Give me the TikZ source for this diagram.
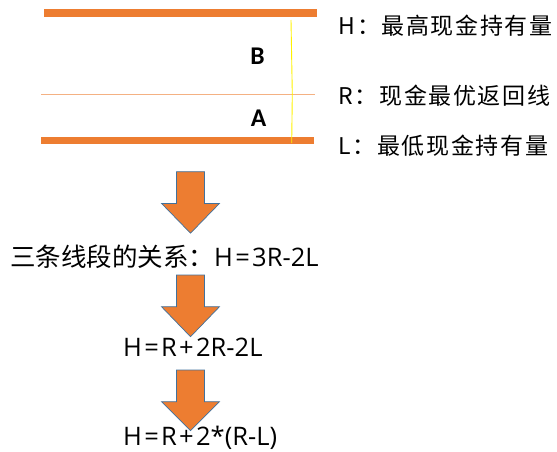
\documentclass[tikz,border=0pt]{standalone}
\usepackage{fontspec}
\newfontfamily\cjk{Noto Sans CJK SC}
\newfontfamily\cjkwide{Noto Sans CJK SC}[LetterSpace=7]
\newfontfamily\latin{Open Sans}
\newfontfamily\letterfont{Carlito}
\definecolor{barorange}{HTML}{ED7D31}
\definecolor{midline}{HTML}{F4B183}
\definecolor{arrowedge}{HTML}{41719C}
\definecolor{guide}{HTML}{FFF200}
% wider relation and plus signs
\newcommand\eqsym{\kern2.3pt=\kern2.3pt}
\newcommand\plussym{\kern2.3pt+\kern2.3pt}

\begin{document}
\begin{tikzpicture}[x=1pt,y=-1pt,
  bar/.style={fill=barorange, draw=none},
  legend/.style={anchor=base west, inner sep=0pt, font=\cjkwide\fontsize{23}{24}\selectfont},
  zone/.style={inner sep=0pt, font=\letterfont\bfseries\fontsize{25.5}{26}\selectfont},
  formula/.style={anchor=base west, inner sep=0pt, font=\fontsize{25.5}{26}\selectfont},
  downblock/.pic={
    \draw[fill=barorange, draw=arrowedge, line width=0.7pt]
      (-14,0) -- (14,0) -- (14,31.7) -- (29,31.7) -- (0,#1)
      -- (-29,31.7) -- (-14,31.7) -- cycle;
  }
]
\useasboundingbox (0,0) rectangle (557,452);

% cash limits: upper bar, return line, lower bar
\fill[bar] (43.8,9) rectangle (316.7,16.7);
\draw[midline, line width=1.2pt] (41,94.3) -- (315,94.3);
\fill[bar] (41,136.7) rectangle (314,144);
\draw[guide, line width=0.9pt] (291,20) -- (292.3,94) -- (291.7,143);

% zone letters
\node[zone] (zoneB) at (257.5,56.7) {B};
\node[zone] (zoneA) at (258.5,118.5) {A};

% legend
\node[legend] (legH) at (338.5,35) {H：最高现金持有量};
\node[legend] (legR) at (338.5,104) {R：现金最优返回线};
\node[legend] (legL) at (338.5,154.6) {L：最低现金持有量};

% derivation steps
\pic at (190.5,171.7) {downblock=61.5};
\node[formula] (eq1) at (10,266.7) {{\cjk 三条线段的关系：}{\latin H\eqsym 3R-2L}};
\pic at (190.5,275) {downblock=61.7};
\node[formula] (eq2) at (123,356.7) {\latin H\eqsym R\plussym 2R-2L};
\pic at (190.5,370) {downblock=60.7};
\node[formula] (eq3) at (123,445) {\latin H\eqsym R\plussym 2*(R-L)};
\end{tikzpicture}
\end{document}
